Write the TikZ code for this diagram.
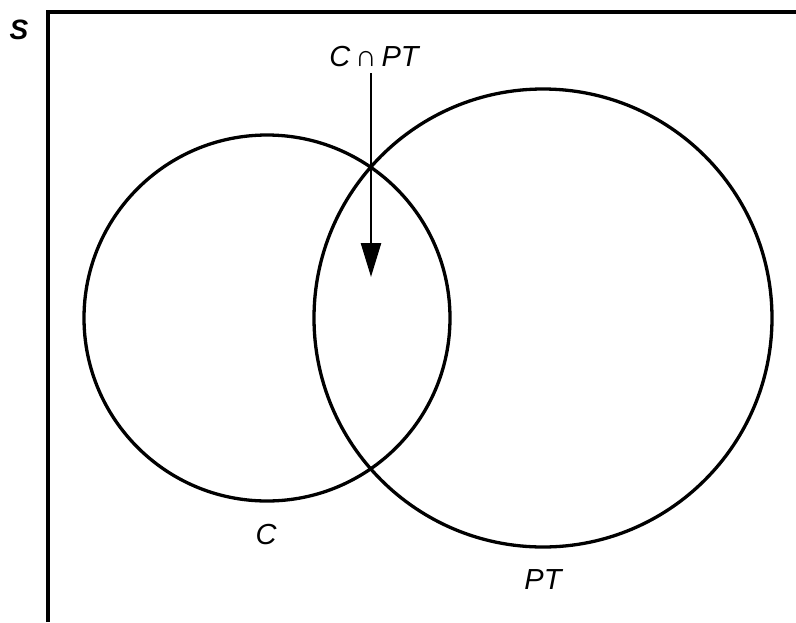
\documentclass[tikz,border=0pt]{standalone}
\usepackage{fontspec}
\setmainfont{Liberation Sans}
\usetikzlibrary{arrows.meta}
\begin{document}
\begin{tikzpicture}[x=1pt,y=-1pt,
  setcircle/.style={circle,draw,line width=3.3pt,inner sep=0pt,outer sep=0pt},
  lbl/.style={font=\fontsize{29}{30}\selectfont\itshape,inner sep=2pt},
  arr/.style={line width=2.6pt,-{Triangle[length=34pt,width=20pt]}}]
\useasboundingbox (0,0) rectangle (796,622);
\fill[white] (0,0) rectangle (796,622);
\draw[line width=3.3pt] (48,622) -- (48,12) -- (796,12);
\node[font=\fontsize{28}{30}\selectfont\bfseries\itshape] (S) at (19,30) {S};
\node[setcircle,minimum size=366pt] (C) at (267,318) {};
\node[setcircle,minimum size=458pt] (PT) at (543,318) {};
\node[lbl] (lab) at (374,57) {C\,{\upshape\fontsize{30}{30}\selectfont∩}\,PT};
\coordinate (tip) at (371,277);
\draw[arr] (lab.south -| tip) ++(0,4) -- (tip);
\node[lbl] (Clab) at (266,535) {C};
\node[lbl] (PTlab) at (543,580) {PT};
\end{tikzpicture}
\end{document}
